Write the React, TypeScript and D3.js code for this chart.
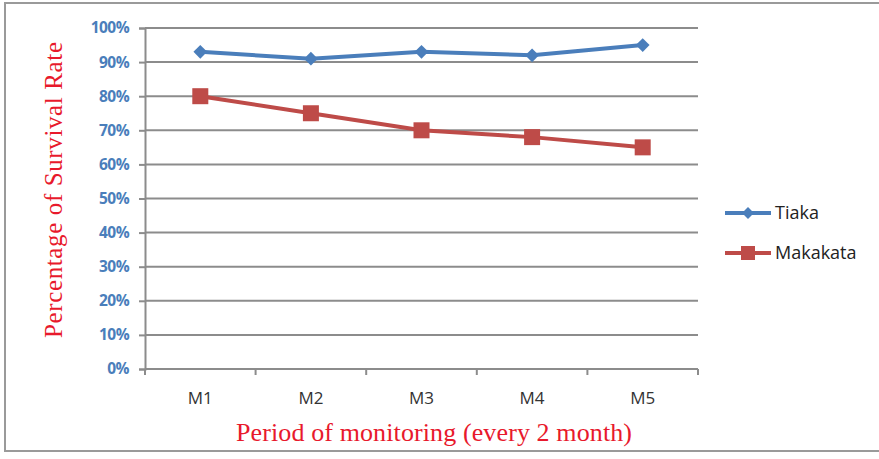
import { useRef, useEffect } from "react";
import * as d3 from "d3";

const periods = ["M1", "M2", "M3", "M4", "M5"];
const tiaka = [0.93, 0.91, 0.93, 0.92, 0.95];
const makakata = [0.8, 0.75, 0.7, 0.68, 0.65];
const yTicks = [0, 0.1, 0.2, 0.3, 0.4, 0.5, 0.6, 0.7, 0.8, 0.9, 1];

const blue = "#4a7ebb";
const red = "#be4b48";

export default function App() {
  const root = useRef<SVGSVGElement>(null);
  const width = 879;
  const height = 459;
  const left = 145, right = 698, top = 28, bottom = 369;

  useEffect(() => {
    const svg = d3.select(root.current);
    svg.selectAll("*").remove();

    const x = d3.scaleBand<string>().domain(periods).range([left, right]);
    const y = d3.scaleLinear().domain([0, 1]).range([bottom, top]);

    // outer frame
    svg.append("rect")
      .attr("x", 5).attr("y", 3)
      .attr("width", width + 10).attr("height", 448)
      .attr("fill", "white").attr("stroke", "#9a9a9a").attr("stroke-width", 2);

    // gridlines
    svg.append("g").selectAll("line").data(yTicks).join("line")
      .attr("x1", left).attr("x2", right)
      .attr("y1", d => y(d)).attr("y2", d => y(d))
      .attr("stroke", "#8c8c8c").attr("stroke-width", 2);

    // y axis
    const ya = svg.append("g").attr("transform", `translate(${left},0)`)
      .call(d3.axisLeft(y).tickValues(yTicks).tickSize(6).tickFormat(d3.format(".0%")));
    ya.select(".domain").attr("stroke", "#8c8c8c").attr("stroke-width", 2);
    ya.selectAll(".tick line").attr("stroke", "#8c8c8c").attr("stroke-width", 2);
    ya.selectAll(".tick text")
      .attr("x", -16)
      .attr("fill", blue)
      .style("font-family", "'Open Sans', sans-serif")
      .style("font-weight", "bold")
      .style("font-size", "15.5px")
      .style("letter-spacing", "-0.6px");

    // x axis
    const xa = svg.append("g").attr("transform", `translate(0,${bottom})`);
    xa.append("line").attr("x1", left).attr("x2", right).attr("stroke", "#8c8c8c").attr("stroke-width", 2);
    const edges = periods.map(p => x(p) as number).concat([right]);
    xa.selectAll("line.tk").data(edges).join("line").attr("class", "tk")
      .attr("x1", d => d).attr("x2", d => d).attr("y1", 0).attr("y2", 6)
      .attr("stroke", "#8c8c8c").attr("stroke-width", 2);
    xa.selectAll("text").data(periods).join("text")
      .attr("x", d => (x(d) as number) + x.bandwidth() / 2)
      .attr("y", 35)
      .attr("text-anchor", "middle")
      .attr("fill", "#333")
      .style("font-family", "'Open Sans', sans-serif")
      .style("font-size", "17px")
      .text(d => d);

    const cx = (d: string) => (x(d) as number) + x.bandwidth() / 2;
    const line = d3.line<number>().x((_, i) => cx(periods[i])).y(d => y(d));

    // Tiaka
    svg.append("path").datum(tiaka).attr("d", line)
      .attr("fill", "none").attr("stroke", blue).attr("stroke-width", 4);
    svg.append("g").selectAll("path").data(tiaka).join("path")
      .attr("d", d3.symbol(d3.symbolDiamond2, 120))
      .attr("transform", (d, i) => `translate(${cx(periods[i])},${y(d)})`)
      .attr("fill", blue);

    // Makakata
    svg.append("path").datum(makakata).attr("d", line)
      .attr("fill", "none").attr("stroke", red).attr("stroke-width", 4);
    svg.append("g").selectAll("rect").data(makakata).join("rect")
      .attr("x", (d, i) => cx(periods[i]) - 8).attr("y", d => y(d) - 8)
      .attr("width", 16).attr("height", 16)
      .attr("fill", red);

    // legend
    const lg = svg.append("g");
    const items = [{ name: "Tiaka", color: blue, sym: "d" }, { name: "Makakata", color: red, sym: "s" }];
    items.forEach((it, i) => {
      const ly = 213 + i * 40;
      lg.append("line").attr("x1", 725).attr("x2", 771).attr("y1", ly).attr("y2", ly)
        .attr("stroke", it.color).attr("stroke-width", 4);
      if (it.sym === "d") {
        lg.append("path").attr("d", d3.symbol(d3.symbolDiamond2, 90))
          .attr("transform", `translate(748,${ly})`).attr("fill", it.color);
      } else {
        lg.append("rect").attr("x", 741).attr("y", ly - 7).attr("width", 14).attr("height", 14).attr("fill", it.color);
      }
      lg.append("text").attr("x", 775).attr("y", ly + 6)
        .attr("fill", "#222")
        .style("font-family", "'Open Sans', sans-serif")
        .style("font-size", "18px")
        .text(it.name);
    });

    // titles
    svg.append("text")
      .attr("x", 434).attr("y", 441)
      .attr("text-anchor", "middle")
      .attr("fill", "#e8192c")
      .style("font-family", "'Liberation Serif', serif")
      .style("font-size", "26px")
      .attr("textLength", 396)
      .text("Period of monitoring (every 2 month)");
    svg.append("text")
      .attr("transform", "translate(62,190) rotate(-90)")
      .attr("text-anchor", "middle")
      .attr("fill", "#e8192c")
      .style("font-family", "'Liberation Serif', serif")
      .style("font-size", "25px")
      .attr("textLength", 296)
      .text("Percentage of Survival Rate");
  }, []);

  return (
    <div style={{ position: "absolute", left: 0, top: 0 }}>
      <svg ref={root} width={width} height={height} style={{ display: "block" }} />
    </div>
  );
}
